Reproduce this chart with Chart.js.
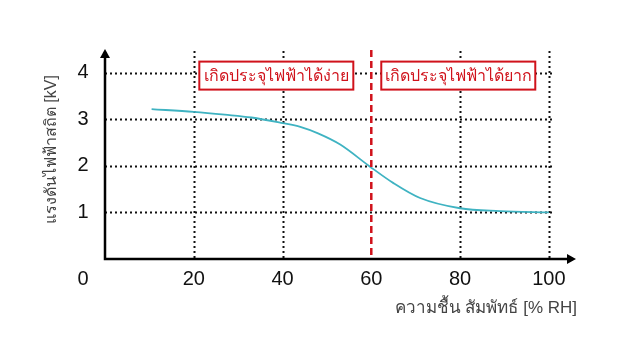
<!DOCTYPE html>
<html>
<head>
<meta charset="utf-8">
<script src="https://cdn.jsdelivr.net/npm/chart.js@4"></script>
<style>
  html, body { margin: 0; padding: 0; background: #fff; }
  #wrap { width: 620px; height: 340px; }
</style>
</head>
<body>
<div id="wrap"><canvas id="chart"></canvas></div>
<script>
// dados
const humidity = [10.5, 20, 27, 33, 40, 44, 48, 53, 59.5, 65, 71, 80, 89, 100];
const voltage  = [3.22, 3.16, 3.10, 3.04, 2.92, 2.84, 2.70, 2.46, 2.0, 1.63, 1.31, 1.09, 1.03, 1.0];
const xTicks = [20, 40, 60, 80, 100];
const yTicks = [1, 2, 3, 4];
const xGrid = [20, 40, 80, 100];
const threshold = 60;
const zones = ['เกิดประจุไฟฟ้าได้ง่าย', 'เกิดประจุไฟฟ้าได้ยาก'];
const zoneCenters = [38.6, 79.6];
const yTitle = 'แรงดันไฟฟ้าสถิต [kV]';
const xTitle = 'ความชื้น สัมพัทธ์ [% RH]';

const FONT = '"Liberation Sans", Arial, sans-serif';
const RED = '#d0121b';

const decor = {
  id: 'decor',
  beforeDatasetsDraw(chart) {
    const { ctx, chartArea: a, scales: { x, y } } = chart;
    ctx.save();
    // grade pontilhada
    ctx.strokeStyle = '#111';
    ctx.lineWidth = 2;
    ctx.setLineDash([2, 3]);
    yTicks.forEach(v => {
      const py = Math.round(y.getPixelForValue(v)) + 0.5;
      ctx.beginPath();
      ctx.moveTo(a.left, py);
      ctx.lineTo(x.getPixelForValue(101), py);
      ctx.stroke();
    });
    xGrid.forEach(v => {
      const px = Math.round(x.getPixelForValue(v)) + 0.5;
      ctx.beginPath();
      ctx.moveTo(px, a.top + 1);
      ctx.lineTo(px, a.bottom);
      ctx.stroke();
    });
    ctx.restore();
  },
  afterDatasetsDraw(chart) {
    const { ctx, chartArea: a, scales: { x, y } } = chart;
    ctx.save();
    // linha vermelha tracejada
    const tx = x.getPixelForValue(threshold);
    ctx.strokeStyle = RED;
    ctx.lineWidth = 2.5;
    ctx.setLineDash([7, 4]);
    ctx.beginPath();
    ctx.moveTo(tx, a.top);
    ctx.lineTo(tx, a.bottom);
    ctx.stroke();
    ctx.setLineDash([]);

    // caixas de texto
    ctx.font = '16px ' + FONT;
    ctx.textAlign = 'center';
    ctx.textBaseline = 'middle';
    zones.forEach((txt, i) => {
      const cx = x.getPixelForValue(zoneCenters[i]);
      const cy = y.getPixelForValue(3.94);
      const w = 154, h = 28;
      ctx.fillStyle = '#fff';
      ctx.fillRect(cx - w / 2, cy - h / 2, w, h);
      ctx.strokeStyle = RED;
      ctx.lineWidth = 2;
      ctx.strokeRect(cx - w / 2, cy - h / 2, w, h);
      ctx.fillStyle = RED;
      ctx.fillText(txt, cx, cy + 1);
    });

    // eixos com setas
    ctx.strokeStyle = '#000';
    ctx.fillStyle = '#000';
    ctx.lineWidth = 2.5;
    ctx.beginPath();
    ctx.moveTo(a.left, a.top + 2);
    ctx.lineTo(a.left, a.bottom);
    ctx.lineTo(a.right - 2, a.bottom);
    ctx.stroke();
    ctx.beginPath();
    ctx.moveTo(a.left, a.top - 1);
    ctx.lineTo(a.left - 5, a.top + 8);
    ctx.lineTo(a.left + 5, a.top + 8);
    ctx.closePath();
    ctx.fill();
    ctx.beginPath();
    ctx.moveTo(a.right + 1, a.bottom);
    ctx.lineTo(a.right - 8, a.bottom - 5);
    ctx.lineTo(a.right - 8, a.bottom + 5);
    ctx.closePath();
    ctx.fill();

    // rótulos dos ticks
    ctx.fillStyle = '#111';
    ctx.font = '20px ' + FONT;
    ctx.textAlign = 'center';
    ctx.textBaseline = 'middle';
    xTicks.forEach(v => ctx.fillText(String(v), x.getPixelForValue(v), a.bottom + 20));
    yTicks.forEach(v => ctx.fillText(String(v), a.left - 22, y.getPixelForValue(v)));
    ctx.fillText('0', a.left - 22, a.bottom + 20);

    // títulos
    ctx.fillStyle = '#444';
    ctx.font = '17px ' + FONT;
    ctx.textAlign = 'right';
    ctx.fillText(xTitle, a.right + 2, a.bottom + 49);
    ctx.translate(52, y.getPixelForValue(2.35));
    ctx.rotate(-Math.PI / 2);
    ctx.textAlign = 'center';
    ctx.font = '16px ' + FONT;
    ctx.fillText(yTitle, 0, 0);
    ctx.restore();
  }
};

new Chart(document.getElementById('chart'), {
  type: 'scatter',
  data: {
    datasets: [{
      data: humidity.map((h, i) => ({ x: h, y: voltage[i] })),
      showLine: true,
      borderColor: '#3fb3c2',
      borderWidth: 1.8,
      pointRadius: 0,
      cubicInterpolationMode: 'monotone'
    }]
  },
  options: {
    responsive: true,
    maintainAspectRatio: false,
    animation: false,
    layout: { padding: { left: 105, right: 45, top: 50, bottom: 81 } },
    plugins: { legend: { display: false }, tooltip: { enabled: false } },
    scales: {
      x: { type: 'linear', min: 0, max: 105.9, display: false },
      y: { type: 'linear', min: 0, max: 4.49, display: false }
    }
  },
  plugins: [decor]
});
</script>
</body>
</html>
